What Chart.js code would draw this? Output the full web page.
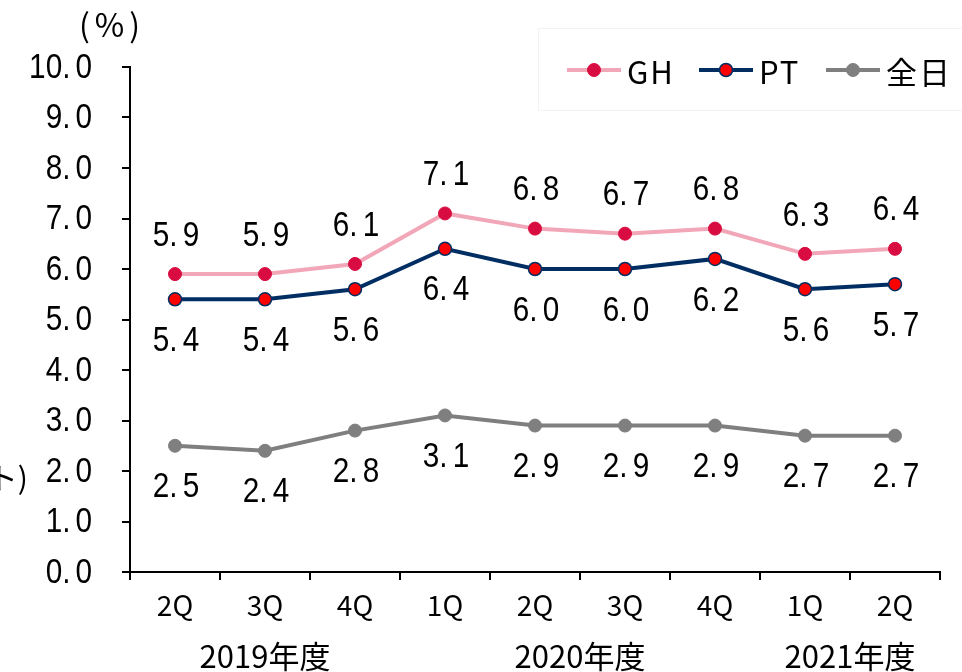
<!DOCTYPE html>
<html>
<head>
<meta charset="utf-8">
<script src="https://cdn.jsdelivr.net/npm/chart.js@4.4.1/dist/chart.umd.min.js"></script>
<style>
  body { margin: 0; background: #fff; }
  #wrap { width: 962px; height: 672px; }
</style>
</head>
<body>
<div id="wrap"><canvas id="c" width="962" height="672"></canvas></div>
<script>
// データ
const quarters = ["2Q", "3Q", "4Q", "1Q", "2Q", "3Q", "4Q", "1Q", "2Q"];
const years = ["2019年度", "2020年度", "2021年度"];
const yearSpans = [[0, 2], [3, 6], [7, 8]];
const ghValues = [5.9, 5.9, 6.1, 7.1, 6.8, 6.7, 6.8, 6.3, 6.4];
const ptValues = [5.4, 5.4, 5.6, 6.4, 6.0, 6.0, 6.2, 5.6, 5.7];
const allValues = [2.5, 2.4, 2.8, 3.1, 2.9, 2.9, 2.9, 2.7, 2.7];

const numFont = "'Liberation Sans', sans-serif";
const jpFont = "'Noto Sans CJK JP', sans-serif";

// 縦長の数字を描く（小数点の後ろを少し空ける）
function drawNum(ctx, text, x, y, align) {
  const sx = 0.85;
  const gap = 5;
  ctx.save();
  ctx.font = "35px " + numFont;
  ctx.letterSpacing = "0px";
  ctx.textAlign = "left";
  ctx.textBaseline = "middle";
  ctx.fillStyle = "#000";
  const dot = text.indexOf(".");
  const head = text.slice(0, dot + 1);
  const tail = text.slice(dot + 1);
  const wHead = ctx.measureText(head).width * sx;
  const wTail = ctx.measureText(tail).width * sx;
  const total = wHead + gap + wTail;
  let x0 = align === "right" ? x - total : x - total / 2;
  ctx.translate(x0, y);
  ctx.scale(sx, 1);
  ctx.fillText(head, 0, 0);
  ctx.fillText(tail, (wHead + gap) / sx, 0);
  ctx.restore();
}

// 数値ラベル・目盛・凡例・注記
const extrasPlugin = {
  id: "extras",
  afterDraw(chart) {
    const ctx = chart.ctx;
    ctx.save();

    // 縦軸の目盛ラベル
    const ys = chart.scales.y;
    ys.ticks.forEach(t => {
      drawNum(ctx, t.value.toFixed(1), 92, ys.getPixelForValue(t.value) + 1, "right");
    });

    // データラベル
    chart.data.datasets.forEach((ds, i) => {
      const meta = chart.getDatasetMeta(i);
      meta.data.forEach((pt, j) => {
        const off = ds.labelPos === "above" ? -38 : 42;
        drawNum(ctx, ds.data[j].toFixed(1), pt.x + 1, pt.y + off, "center");
      });
    });

    // 年度ラベル
    const xs = chart.scales.x;
    ctx.fillStyle = "#000";
    ctx.textAlign = "center";
    ctx.textBaseline = "middle";
    ctx.font = "31px " + jpFont;
    years.forEach((y, k) => {
      const a = xs.getPixelForValue(yearSpans[k][0]);
      const b = xs.getPixelForValue(yearSpans[k][1]);
      ctx.fillText(y, (a + b) / 2, 656);
    });

    // 単位
    ctx.font = "32px " + jpFont;
    ctx.letterSpacing = "5px";
    ctx.fillText("(%)", 112, 25);
    ctx.letterSpacing = "0px";
    ctx.textAlign = "right";
    ctx.font = "30px " + jpFont;
    ctx.fillText("(%ポイント)", 28, 478);

    // 凡例
    ctx.fillStyle = "#fff";
    ctx.strokeStyle = "#f3f3f3";
    ctx.lineWidth = 1;
    ctx.fillRect(538.5, 28.5, 430, 82);
    ctx.strokeRect(538.5, 28.5, 430, 82);

    const legendX = [567, 699, 826];
    ctx.font = "31px " + jpFont;
    ctx.letterSpacing = "2px";
    ctx.textAlign = "left";
    chart.data.datasets.forEach((ds, i) => {
      const x0 = legendX[i];
      const y0 = 70;
      ctx.strokeStyle = ds.borderColor;
      ctx.lineWidth = 4;
      ctx.beginPath();
      ctx.moveTo(x0, y0);
      ctx.lineTo(x0 + 54, y0);
      ctx.stroke();
      ctx.beginPath();
      ctx.arc(x0 + 27, y0, 6.5, 0, Math.PI * 2);
      ctx.fillStyle = ds.pointBackgroundColor;
      ctx.fill();
      ctx.lineWidth = ds.pointBorderWidth;
      ctx.strokeStyle = ds.pointBorderColor;
      ctx.stroke();
      ctx.fillStyle = "#000";
      ctx.fillText(ds.label, x0 + 60, y0 + 2);
    });

    ctx.restore();
  }
};

new Chart(document.getElementById("c"), {
  type: "line",
  data: {
    labels: quarters,
    datasets: [
      {
        label: "GH",
        data: ghValues,
        borderColor: "#F2A7B8",
        borderWidth: 4,
        pointRadius: 6.5,
        pointBackgroundColor: "#D80C40",
        pointBorderColor: "#D80C40",
        pointBorderWidth: 1,
        tension: 0,
        labelPos: "above"
      },
      {
        label: "PT",
        data: ptValues,
        borderColor: "#002E63",
        borderWidth: 4,
        pointRadius: 6.5,
        pointBackgroundColor: "#FF0000",
        pointBorderColor: "#002E63",
        pointBorderWidth: 1.5,
        tension: 0,
        labelPos: "below"
      },
      {
        label: "全日",
        data: allValues,
        borderColor: "#7F7F7F",
        borderWidth: 4,
        pointRadius: 6.5,
        pointBackgroundColor: "#7F7F7F",
        pointBorderColor: "#7F7F7F",
        pointBorderWidth: 1,
        tension: 0,
        labelPos: "below"
      }
    ]
  },
  options: {
    responsive: false,
    animation: false,
    layout: {
      padding: { top: 67, right: 22, left: 0, bottom: 0 }
    },
    plugins: {
      legend: { display: false },
      tooltip: { enabled: false }
    },
    scales: {
      x: {
        offset: true,
        afterFit: s => { s.height = 100; },
        grid: {
          offset: true,
          drawOnChartArea: false,
          drawTicks: true,
          tickLength: 8,
          color: "#000",
          lineWidth: 2
        },
        border: { color: "#000", width: 2 },
        ticks: {
          color: "#000",
          padding: 9,
          font: { family: jpFont, size: 28 }
        }
      },
      y: {
        min: 0,
        max: 10,
        afterFit: s => { s.width = 130; },
        grid: {
          drawOnChartArea: false,
          drawTicks: true,
          tickLength: 8,
          color: "#000",
          lineWidth: 2
        },
        border: { color: "#000", width: 2 },
        ticks: {
          stepSize: 1,
          display: false
        }
      }
    }
  },
  plugins: [extrasPlugin]
});
</script>
</body>
</html>
